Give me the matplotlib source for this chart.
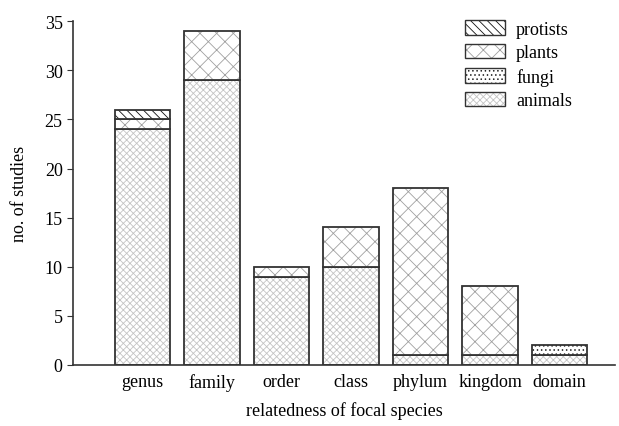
import numpy as np
import matplotlib
matplotlib.use("Agg")
import matplotlib.pyplot as plt
from matplotlib.patches import Patch

plt.rcParams['font.family'] = ['Liberation Serif', 'DejaVu Serif']
plt.rcParams['hatch.linewidth'] = 0.6

categories = ["genus", "family", "order", "class", "phylum", "kingdom", "domain"]
animals = [24, 29, 9, 10, 1, 1, 1]
fungi = [0, 0, 0, 0, 0, 0, 1]
plants = [1, 5, 1, 4, 17, 7, 0]
protists = [1, 0, 0, 0, 0, 0, 0]

series = [
    ("animals", animals, "xxxxx", "#c4c4c4"),
    ("fungi", fungi, "....", "#222222"),
    ("plants", plants, "xx", "#a0a0a0"),
    ("protists", protists, "\\\\\\\\", "#111111"),
]

fig = plt.figure(figsize=(6.19, 4.27), dpi=100)
ax = fig.add_axes([0.118, 0.143, 0.876, 0.805])

x = np.arange(len(categories))
w = 0.8
bottom = np.zeros(len(categories))
handles = {}
for name, vals, hatch, hc in series:
    vals = np.array(vals, dtype=float)
    mask = vals > 0
    ax.bar(x[mask], vals[mask], w, bottom=bottom[mask], color="white",
           edgecolor=hc, hatch=hatch, linewidth=0)
    ax.bar(x[mask], vals[mask], w, bottom=bottom[mask], fill=False,
           edgecolor="#333333", linewidth=1.3)
    bottom += vals
    handles[name] = (Patch(facecolor="white", edgecolor=hc, hatch=hatch, linewidth=0),
                     Patch(fill=False, edgecolor="#333333", linewidth=1.0))

order = ["protists", "plants", "fungi", "animals"]
ax.legend([handles[n] for n in order], order, loc="upper right",
          bbox_to_anchor=(0.95, 1.05), frameon=False, fontsize=13,
          handlelength=2.2, handleheight=0.85, labelspacing=0.35, handletextpad=0.6)

ax.set_xlim(-1.0, 6.8)
ax.set_ylim(0, 35)
ax.set_yticks(range(0, 36, 5))
ax.set_xticks(x)
ax.set_xticklabels(categories)
ax.tick_params(axis="x", length=0, labelsize=13, pad=6)
ax.tick_params(axis="y", length=4, labelsize=13, color="#333333")
for s in ["top", "right"]:
    ax.spines[s].set_visible(False)
for s in ["left", "bottom"]:
    ax.spines[s].set_color("#333333")
    ax.spines[s].set_linewidth(1.2)
ax.set_xlabel("relatedness of focal species", fontsize=13, labelpad=7)
ax.set_ylabel("no. of studies", fontsize=13, labelpad=12)

fig.savefig("out.png", dpi=100)
